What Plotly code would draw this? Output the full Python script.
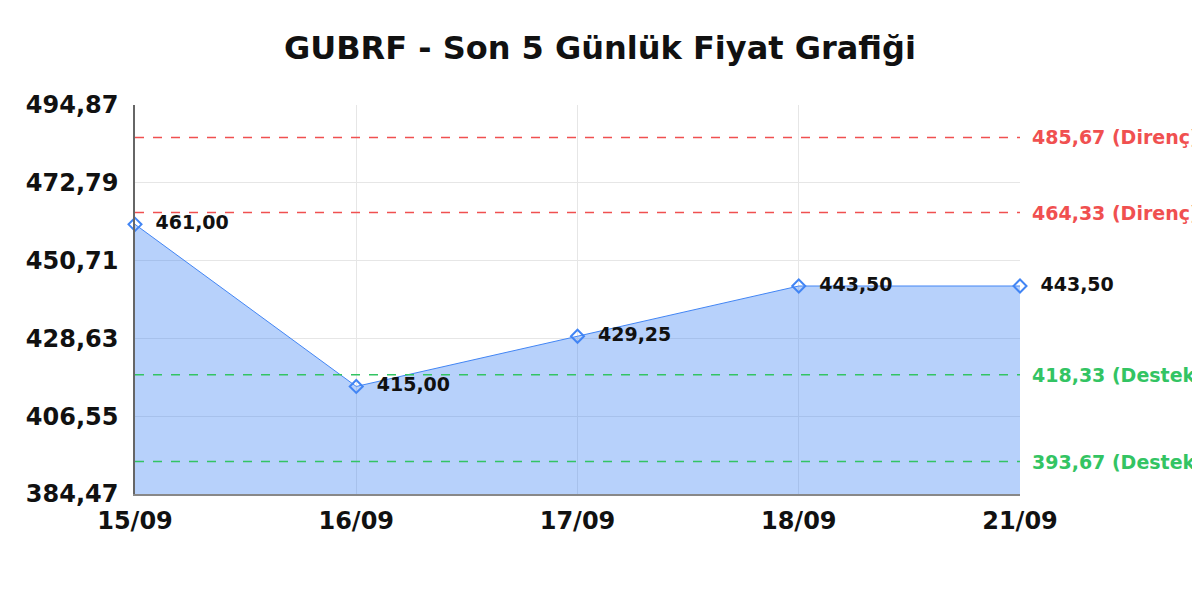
import plotly.graph_objects as go

dates = ['15/09', '16/09', '17/09', '18/09', '21/09']
prices = [461.00, 415.00, 429.25, 443.50, 443.50]

y_ticks = [384.47, 406.55, 428.63, 450.71, 472.79, 494.87]

resistance = [485.67, 464.33]
support = [418.33, 393.67]

red = '#f05050'
green = '#33c463'
blue = '#4285f4'


def fmt(v):
    return f"{v:.2f}".replace('.', ',')


fig = go.Figure()

fig.add_trace(go.Scatter(
    x=dates, y=prices,
    mode='lines+markers+text',
    line=dict(color=blue, width=1),
    fill='tozeroy',
    fillcolor='rgba(66,133,244,0.38)',
    marker=dict(symbol='diamond-open', size=10, color=blue, line=dict(width=2)),
    text=['  ' + fmt(p) for p in prices],
    textposition='middle right',
    textfont=dict(family='DejaVu Sans', size=19, color='#111111', weight='bold'),
    cliponaxis=False,
    showlegend=False,
))

for val in resistance:
    fig.add_hline(y=val, line=dict(color=red, width=1.5, dash='dash'))
    fig.add_annotation(x=1.0, xref='paper', y=val, yref='y', xanchor='left', xshift=10,
                       text=fmt(val) + " (Direnç)", showarrow=False,
                       font=dict(family='DejaVu Sans', size=19, color=red, weight='bold'))

for val in support:
    fig.add_hline(y=val, line=dict(color=green, width=1.5, dash='dash'))
    fig.add_annotation(x=1.0, xref='paper', y=val, yref='y', xanchor='left', xshift=10,
                       text=fmt(val) + " (Destek)", showarrow=False,
                       font=dict(family='DejaVu Sans', size=19, color=green, weight='bold'))

fig.update_layout(
    width=1200, height=600,
    title=dict(text='GUBRF - Son 5 Günlük Fiyat Grafiği', x=0.4933, xanchor='center',
               y=0.933, yanchor='middle', yref='container',
               font=dict(family='DejaVu Sans', size=32, color='#111111', weight='bold')),
    paper_bgcolor='white', plot_bgcolor='white',
    margin=dict(l=127, r=188, t=97, b=114),
    separators=',.',
    font=dict(family='DejaVu Sans', color='#111111'),
)

fig.update_xaxes(
    type='category', range=[0, 4],
    showgrid=True, gridcolor='#e6e6e6',
    showline=True, linecolor='#888888', linewidth=1.5,
    tickfont=dict(size=24, weight='bold'),
    ticks='', ticklabelstandoff=4, automargin=False, layer='above traces',
)
fig.update_yaxes(
    range=[y_ticks[0], y_ticks[-1]],
    tickvals=y_ticks,
    ticktext=[fmt(v) for v in y_ticks],
    showgrid=True, gridcolor='#e6e6e6',
    showline=True, linecolor='#666666', linewidth=1.5,
    tickfont=dict(size=24, weight='bold'),
    ticks='', ticklabelstandoff=10, zeroline=False, automargin=False, layer='above traces',
)

fig.write_html("out.html")
